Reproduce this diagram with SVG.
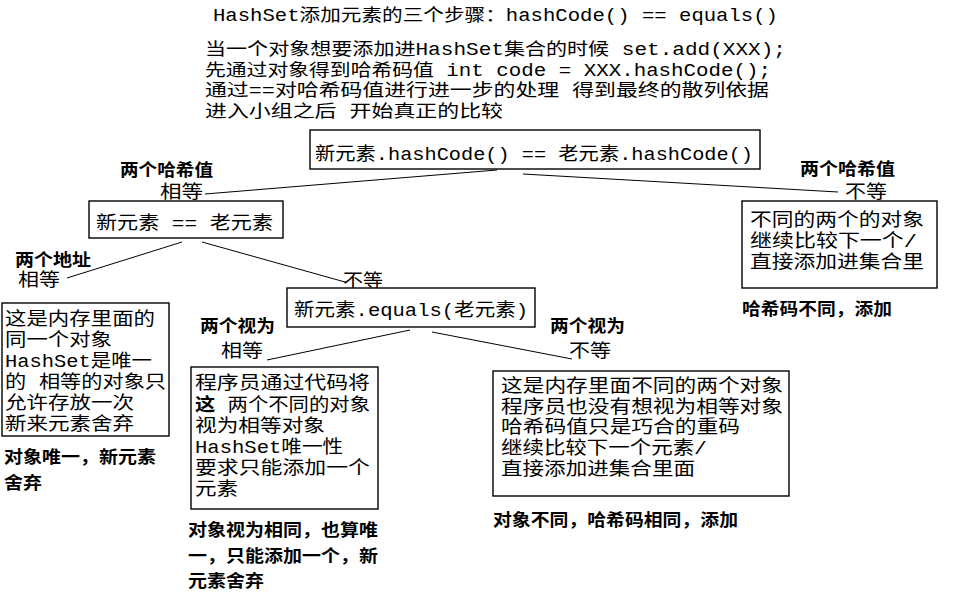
<svg xmlns="http://www.w3.org/2000/svg" width="961" height="611" viewBox="0 0 961 611">
<style>
  .t { font-family: 'Liberation Mono', 'Noto Sans CJK SC', monospace; fill: #000; }
  .d { font-size: 17.5px; }
  .n { font-size: 18.5px; }
  .b { font-family: 'Noto Sans CJK SC', sans-serif; font-weight: bold; font-size: 17px; fill: #000; }
  .box { fill: #fff; stroke: #000; stroke-width: 1.4; }
  .c { stroke: #000; stroke-width: 1; fill: none; }
</style>
<rect width="961" height="611" fill="#fff"/>

<g id="header">
  <text class="t d" x="213" y="21" textLength="565" lengthAdjust="spacingAndGlyphs">HashSet添加元素的三个步骤：hashCode() == equals()</text>
  <text class="t d" x="205" y="55" textLength="581" lengthAdjust="spacingAndGlyphs">当一个对象想要添加进HashSet集合的时候 set.add(XXX);</text>
  <text class="t d" x="205" y="76" textLength="566" lengthAdjust="spacingAndGlyphs">先通过对象得到哈希码值 int code = XXX.hashCode();</text>
  <text class="t d" x="205" y="96" textLength="564" lengthAdjust="spacingAndGlyphs">通过==对哈希码值进行进一步的处理 得到最终的散列依据</text>
  <text class="t d" x="205" y="117" textLength="298" lengthAdjust="spacingAndGlyphs">进入小组之后 开始真正的比较</text>
</g>

<g id="connectors">
  <line class="c" x1="497" y1="170" x2="205" y2="194"/>
  <line class="c" x1="523" y1="174" x2="838" y2="192"/>
  <line class="c" x1="182" y1="242" x2="67" y2="278"/>
  <line class="c" x1="202" y1="242" x2="345" y2="282"/>
  <line class="c" x1="410" y1="330" x2="267" y2="360"/>
  <line class="c" x1="432" y1="332" x2="572" y2="359"/>
</g>

<g id="hash-compare">
  <rect class="box" x="310" y="130" width="450" height="39"/>
  <text class="t n" x="315" y="160" textLength="438" lengthAdjust="spacingAndGlyphs">新元素.hashCode() == 老元素.hashCode()</text>
</g>

<g id="label-hash-equal">
  <text class="b" x="120" y="176" textLength="93" lengthAdjust="spacingAndGlyphs">两个哈希值</text>
  <text class="t n" x="160" y="198" textLength="43" lengthAdjust="spacingAndGlyphs">相等</text>
</g>

<g id="label-hash-diff">
  <text class="b" x="800" y="175" textLength="95" lengthAdjust="spacingAndGlyphs">两个哈希值</text>
  <text class="t n" x="845" y="198" textLength="42" lengthAdjust="spacingAndGlyphs">不等</text>
</g>

<g id="addr-compare">
  <rect class="box" x="89" y="201" width="194" height="37"/>
  <text class="t n" x="96" y="229" textLength="177" lengthAdjust="spacingAndGlyphs">新元素 == 老元素</text>
</g>

<g id="hash-diff-box">
  <rect class="box" x="742" y="201" width="195" height="87"/>
  <text class="t n" x="750" y="226" textLength="174" lengthAdjust="spacingAndGlyphs">不同的两个的对象</text>
  <text class="t n" x="750" y="247" textLength="167" lengthAdjust="spacingAndGlyphs">继续比较下一个/</text>
  <text class="t n" x="750" y="268" textLength="174" lengthAdjust="spacingAndGlyphs">直接添加进集合里</text>
  <text class="b" x="742" y="315" textLength="150" lengthAdjust="spacingAndGlyphs">哈希码不同，添加</text>
</g>

<g id="label-addr-equal">
  <text class="b" x="15" y="266" textLength="76" lengthAdjust="spacingAndGlyphs">两个地址</text>
  <text class="t n" x="18" y="286" textLength="42" lengthAdjust="spacingAndGlyphs">相等</text>
</g>

<g id="label-addr-diff">
  <text class="t n" x="343" y="287" textLength="40" lengthAdjust="spacingAndGlyphs">不等</text>
</g>

<g id="equals-compare">
  <rect class="box" x="287" y="288" width="248" height="39"/>
  <text class="t n" x="294" y="316" textLength="234" lengthAdjust="spacingAndGlyphs">新元素.equals(老元素)</text>
</g>

<g id="same-object-box">
  <rect class="box" x="2" y="303" width="167" height="133"/>
  <text class="t n" x="5" y="325" textLength="150" lengthAdjust="spacingAndGlyphs">这是内存里面的</text>
  <text class="t n" x="5" y="346" textLength="107" lengthAdjust="spacingAndGlyphs">同一个对象</text>
  <text class="t n" x="5" y="367" textLength="147" lengthAdjust="spacingAndGlyphs">HashSet是唯一</text>
  <text class="t n" x="5" y="388" textLength="161" lengthAdjust="spacingAndGlyphs">的 相等的对象只</text>
  <text class="t n" x="5" y="409" textLength="129" lengthAdjust="spacingAndGlyphs">允许存放一次</text>
  <text class="t n" x="5" y="430" textLength="129" lengthAdjust="spacingAndGlyphs">新来元素舍弃</text>
  <text class="b" x="4" y="463" textLength="152" lengthAdjust="spacingAndGlyphs">对象唯一，新元素</text>
  <text class="b" x="4" y="489" textLength="38" lengthAdjust="spacingAndGlyphs">舍弃</text>
</g>

<g id="label-equals-equal">
  <text class="b" x="200" y="332" textLength="75" lengthAdjust="spacingAndGlyphs">两个视为</text>
  <text class="t n" x="221" y="357" textLength="42" lengthAdjust="spacingAndGlyphs">相等</text>
</g>

<g id="label-equals-diff">
  <text class="b" x="550" y="332" textLength="75" lengthAdjust="spacingAndGlyphs">两个视为</text>
  <text class="t n" x="569" y="357" textLength="42" lengthAdjust="spacingAndGlyphs">不等</text>
</g>

<g id="equal-object-box">
  <rect class="box" x="191" y="367" width="187" height="142"/>
  <text class="t n" x="195" y="389" textLength="175" lengthAdjust="spacingAndGlyphs">程序员通过代码将</text>
  <text class="t n" x="195" y="411" textLength="175" lengthAdjust="spacingAndGlyphs"><tspan font-weight="bold">这</tspan> 两个不同的对象</text>
  <text class="t n" x="195" y="432" textLength="130" lengthAdjust="spacingAndGlyphs">视为相等对象</text>
  <text class="t n" x="195" y="453" textLength="148" lengthAdjust="spacingAndGlyphs">HashSet唯一性</text>
  <text class="t n" x="195" y="474" textLength="175" lengthAdjust="spacingAndGlyphs">要求只能添加一个</text>
  <text class="t n" x="195" y="495" textLength="43" lengthAdjust="spacingAndGlyphs">元素</text>
  <text class="b" x="188" y="536" textLength="190" lengthAdjust="spacingAndGlyphs">对象视为相同，也算唯</text>
  <text class="b" x="188" y="562" textLength="190" lengthAdjust="spacingAndGlyphs">一，只能添加一个，新</text>
  <text class="b" x="188" y="587" textLength="76" lengthAdjust="spacingAndGlyphs">元素舍弃</text>
</g>

<g id="diff-object-box">
  <rect class="box" x="493" y="371" width="296" height="125"/>
  <text class="t n" x="501" y="392" textLength="282" lengthAdjust="spacingAndGlyphs">这是内存里面不同的两个对象</text>
  <text class="t n" x="501" y="413" textLength="282" lengthAdjust="spacingAndGlyphs">程序员也没有想视为相等对象</text>
  <text class="t n" x="501" y="433" textLength="239" lengthAdjust="spacingAndGlyphs">哈希码值只是巧合的重码</text>
  <text class="t n" x="501" y="454" textLength="206" lengthAdjust="spacingAndGlyphs">继续比较下一个元素/</text>
  <text class="t n" x="501" y="475" textLength="194" lengthAdjust="spacingAndGlyphs">直接添加进集合里面</text>
  <text class="b" x="493" y="526" textLength="245" lengthAdjust="spacingAndGlyphs">对象不同，哈希码相同，添加</text>
</g>
</svg>
